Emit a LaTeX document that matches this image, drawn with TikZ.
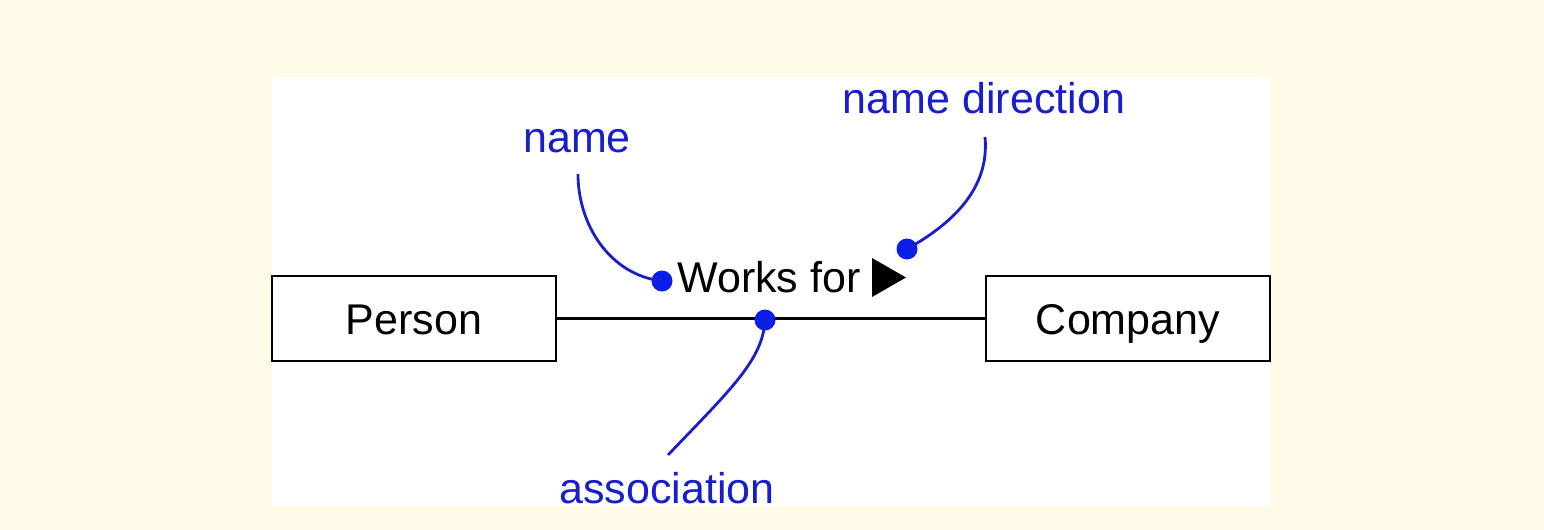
\documentclass[tikz,border=0pt]{standalone}
\usepackage{fontspec}
\setmainfont{Liberation Sans}
\usetikzlibrary{positioning}
\definecolor{cream}{RGB}{255,251,232}
\definecolor{annot}{RGB}{25,30,205}
\definecolor{pinblue}{RGB}{10,30,235}

\begin{document}
\begin{tikzpicture}[x=0.5pt, y=-0.5pt,
    classbox/.style={draw, line width=1.3pt, minimum width=142pt, minimum height=42.5pt, inner sep=0pt,
      text height=16pt, text depth=0pt, font=\fontsize{21.5}{26}\selectfont},
    note/.style={text=annot, inner sep=0pt, font=\fontsize{21.5}{26}\selectfont},
    pin/.style={circle, fill=pinblue, inner sep=0pt, minimum size=10.5pt},
    lead/.style={draw=annot, line width=1.4pt}]
    \fill[cream] (0,0) rectangle (1544,530);
    \fill[white] (272,77) rectangle (1270,506);
    % classes and association
    \node[classbox] (person)  at (414,318.5)  {Person};
    \node[classbox] (company) at (1128,318.5) {Company};
    \draw[line width=1.2pt] (person) -- (company);
    \node[inner sep=0pt, anchor=base west, font=\fontsize{21.5}{26}\selectfont] (worksfor) at (677,292) {Works for};
    \fill (872,258) -- (906,277.5) -- (872,297) -- cycle;
    % annotations
    \node[note, anchor=base] (namelbl)  at (577,152)  {name};
    \node[note, anchor=base] (dirlbl)   at (984,113)  {name direction};
    \node[note, anchor=base] (assoclbl) at (667,503)  {association};
    \node[pin] (namepin)  at (662,281) {};
    \node[pin] (dirpin)   at (907,249) {};
    \node[pin] (assocpin) at (765,320) {};
    \draw[lead] (578,174) .. controls (578,225) and (610,275) .. (namepin.center);
    \draw[lead] (985,137) .. controls (990,190) and (950,225) .. (dirpin.center);
    \draw[lead] (assocpin.center) .. controls (763,360) and (730,390) .. (668,455);
\end{tikzpicture}
\end{document}
